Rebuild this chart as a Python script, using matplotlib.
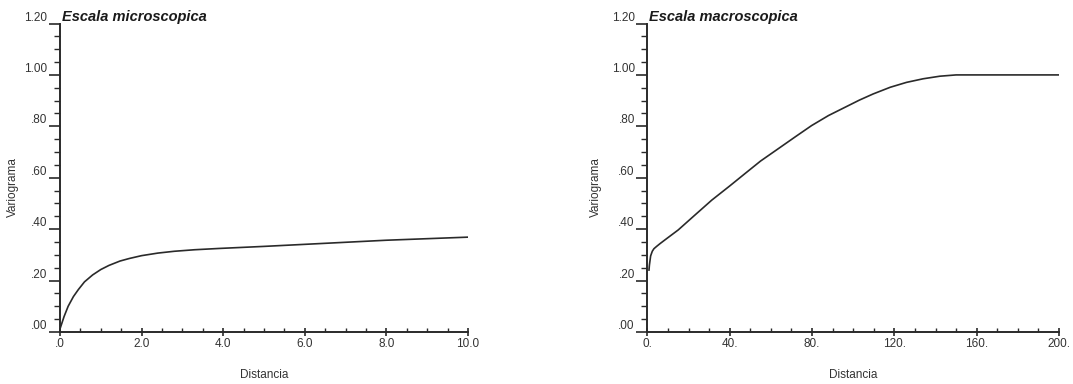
import matplotlib.pyplot as plt
from matplotlib.ticker import MultipleLocator

plt.rcParams['font.family'] = ['Liberation Sans', 'DejaVu Sans']

# variograma a escala microscopica (distancia 0-10)
micro_dist = [0.0, 0.1, 0.2, 0.33, 0.45, 0.6, 0.8, 1.0, 1.2, 1.47, 1.7, 2.0,
              2.4, 2.8, 3.3, 3.9, 5.0, 6.0, 7.0, 8.0, 9.0, 10.0]
micro_gam = [0.012, 0.06, 0.10, 0.138, 0.165, 0.195, 0.222, 0.243, 0.259,
             0.276, 0.286, 0.297, 0.307, 0.314, 0.320, 0.325, 0.333, 0.341,
             0.349, 0.357, 0.363, 0.369]

# variograma a escala macroscopica (distancia 0-200)
macro_dist = [0.8, 1.0, 1.6, 2.4, 3.2, 4.5, 6.2, 9.0, 12.0, 15.0, 18.5, 22.0,
              31.3, 40.0, 47.4, 55.0, 63.6, 72.0, 79.8, 88.0, 96.0, 103.0,
              109.7, 118.0, 125.9, 134.0, 142.1, 150.0, 160.0, 200.0]
macro_gam = [0.241, 0.260, 0.296, 0.314, 0.324, 0.333, 0.344, 0.361, 0.379,
             0.397, 0.422, 0.447, 0.513, 0.568, 0.616, 0.665, 0.713, 0.760,
             0.803, 0.842, 0.874, 0.902, 0.926, 0.952, 0.971, 0.985, 0.995,
             1.0, 1.0, 1.0]

micro_xticks = [0, 2, 4, 6, 8, 10]
micro_xlabels = ['.0', '2.0', '4.0', '6.0', '8.0', '10.0']
macro_xticks = [0, 40, 80, 120, 160, 200]
macro_xlabels = ['0.', '40.', '80.', '120.', '160.', '200.']
yticks = [0.0, 0.2, 0.4, 0.6, 0.8, 1.0, 1.2]
ylabels = ['.00', '.20', '.40', '.60', '.80', '1.00', '1.20']

ink = '#2a2a2a'
txt = '#333333'

fig = plt.figure(figsize=(10.73, 3.84), dpi=100)
ax1 = fig.add_axes([0.0559, 0.1354, 0.3803, 0.8034])
ax2 = fig.add_axes([0.6033, 0.1354, 0.3837, 0.8034])

panels = [
    (ax1, micro_dist, micro_gam, micro_xticks, micro_xlabels, 10, 0.5,
     'Escala microscopica', -0.1),
    (ax2, macro_dist, macro_gam, macro_xticks, macro_xlabels, 200, 10,
     'Escala macroscopica', -0.11),
]

for ax, xs, ys, xt, xl, xmax, xminor, title, ylab_x in panels:
    ax.plot(xs, ys, color=ink, lw=1.2)
    ax.set_xlim(0, xmax)
    ax.set_ylim(0, 1.2)
    for s in ['top', 'right']:
        ax.spines[s].set_visible(False)
    for s in ['left', 'bottom']:
        ax.spines[s].set_color(ink)
        ax.spines[s].set_linewidth(1.4)
    ax.set_xticks(xt)
    ax.set_xticklabels(xl)
    ax.xaxis.set_minor_locator(MultipleLocator(xminor))
    ax.set_yticks(yticks)
    ax.set_yticklabels(ylabels)
    ax.yaxis.set_minor_locator(MultipleLocator(0.05))
    ax.tick_params(axis='x', which='major', direction='inout', length=6, width=1.2,
                   color=ink, labelsize=8.5, labelcolor=txt, pad=1)
    ax.tick_params(axis='x', which='minor', direction='in', length=3, width=1.0, color=ink)
    ax.tick_params(axis='y', which='major', direction='out', length=8, width=1.2,
                   color=ink, labelsize=8.5, labelcolor=txt, pad=1)
    ax.tick_params(axis='y', which='minor', direction='out', length=4, width=1.0, color=ink)
    for lab in ax.get_yticklabels():
        lab.set_va('bottom')
    ax.set_xlabel('Distancia', fontsize=8.5, color=txt)
    ax.xaxis.set_label_coords(0.5, -0.12)
    ax.set_ylabel('Variograma', fontsize=8.5, color=txt)
    ax.yaxis.set_label_coords(ylab_x, 0.47)
    ax.text(0.005, 0.997, title, transform=ax.transAxes, fontsize=10.5,
            fontweight='bold', fontstyle='italic', color='#1a1a1a',
            ha='left', va='bottom')

fig.savefig('out.png', dpi=100)
